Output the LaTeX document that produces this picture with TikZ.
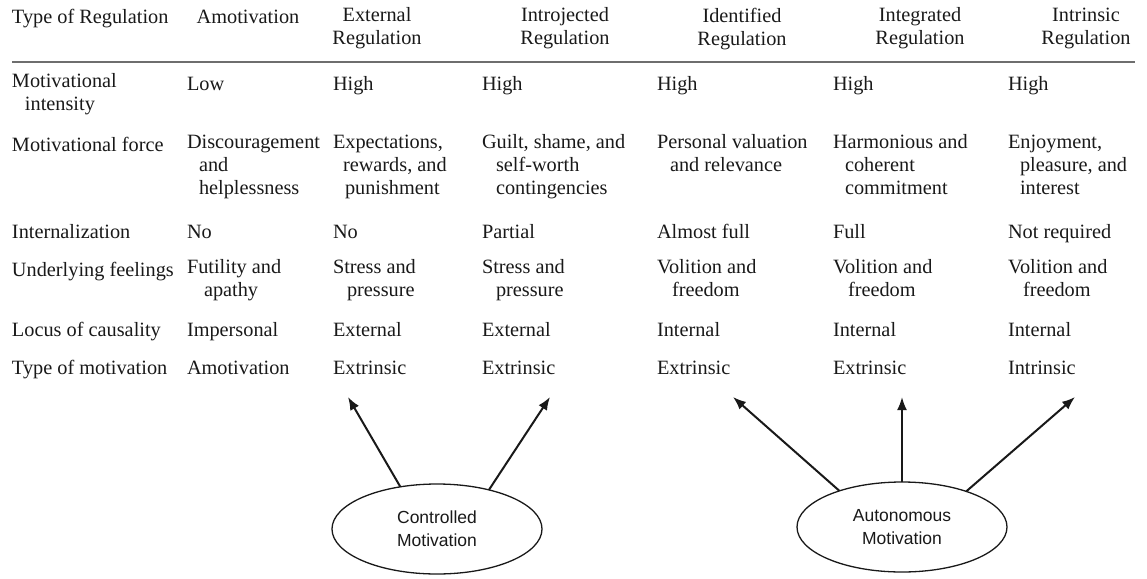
\documentclass[tikz,border=0pt]{standalone}
\usepackage{fontspec}
\setmainfont{Liberation Serif}
\newfontfamily\ovalfont{Liberation Sans}
\usetikzlibrary{shapes.geometric,arrows.meta}
\definecolor{txt}{RGB}{25,25,25}
\definecolor{rulegray}{RGB}{110,110,110}
\begin{document}
\begin{tikzpicture}[x=1pt,y=-1pt,
  every node/.style={inner sep=0pt, outer sep=0pt, text=txt},
  cell/.style={anchor=north west, align=left, font=\fontsize{20.3}{23}\selectfont, execute at begin node={\strut}},
  head/.style={anchor=north, align=center, font=\fontsize{20.3}{23}\selectfont, execute at begin node={\strut}},
  oval/.style={ellipse, draw=txt, line width=1.3pt, minimum width=210pt, minimum height=90pt, align=center, font=\ovalfont\fontsize{17.5}{23}\selectfont},
  arr/.style={draw=txt, line width=2pt, -{Latex[length=13pt,width=10pt]}},
  rulestyle/.style={draw=rulegray, line width=2pt}]
\useasboundingbox (0,0) rectangle (1147,578);
% header
\node[cell] (c0a) at (12,7.9) {Type of Regulation};
\node[head] (h1) at (248,7.9) {Amotivation};
\node[head] (h2) at (377,7.9) {External\\Regulation};
\node[head] (h3) at (565,7.9) {Introjected\\Regulation};
\node[head] (h4) at (742,7.9) {Identified\\Regulation};
\node[head] (h5) at (920,7.9) {Integrated\\Regulation};
\node[head] (h6) at (1086,7.9) {Intrinsic\\Regulation};
\coordinate (rl) at (12,62);
\coordinate (rr) at (1135,62);
\draw[rulestyle] (rl) -- (rr);
% column 0
\node[cell] (c0b) at (12,73.9) {Motivational\\\hspace*{13pt}intensity};
\node[cell] (c0c) at (12,134.9) {Motivational force};
\node[cell] (c0d) at (12,221.9) {Internalization};
\node[cell] (c0e) at (12,259.9) {Underlying feelings};
\node[cell] (c0f) at (12,319.9) {Locus of causality};
\node[cell] (c0g) at (12,357.9) {Type of motivation};
% column 1
\node[cell] (c1b) at (187,73.9) {Low};
\node[cell] (c1c) at (187,134.9) {Discouragement\\\hspace*{12pt}and\\\hspace*{12pt}helplessness};
\node[cell] (c1d) at (187,221.9) {No};
\node[cell] (c1e) at (187,259.9) {Futility and\\\hspace*{17pt}apathy};
\node[cell] (c1f) at (187,319.9) {Impersonal};
\node[cell] (c1g) at (187,357.9) {Amotivation};
% column 2
\node[cell] (c2b) at (333,73.9) {High};
\node[cell] (c2c) at (333,134.9) {Expectations,\\\hspace*{10pt}rewards, and\\\hspace*{12pt}punishment};
\node[cell] (c2d) at (333,221.9) {No};
\node[cell] (c2e) at (333,259.9) {Stress and\\\hspace*{14pt}pressure};
\node[cell] (c2f) at (333,319.9) {External};
\node[cell] (c2g) at (333,357.9) {Extrinsic};
% column 3
\node[cell] (c3b) at (482,73.9) {High};
\node[cell] (c3c) at (482,134.9) {Guilt, shame, and\\\hspace*{14pt}self-worth\\\hspace*{14pt}contingencies};
\node[cell] (c3d) at (482,221.9) {Partial};
\node[cell] (c3e) at (482,259.9) {Stress and\\\hspace*{14pt}pressure};
\node[cell] (c3f) at (482,319.9) {External};
\node[cell] (c3g) at (482,357.9) {Extrinsic};
% column 4
\node[cell] (c4b) at (657,73.9) {High};
\node[cell] (c4c) at (657,134.9) {Personal valuation\\\hspace*{13pt}and relevance};
\node[cell] (c4d) at (657,221.9) {Almost full};
\node[cell] (c4e) at (657,259.9) {Volition and\\\hspace*{15pt}freedom};
\node[cell] (c4f) at (657,319.9) {Internal};
\node[cell] (c4g) at (657,357.9) {Extrinsic};
% column 5
\node[cell] (c5b) at (833,73.9) {High};
\node[cell] (c5c) at (833,134.9) {Harmonious and\\\hspace*{12pt}coherent\\\hspace*{12pt}commitment};
\node[cell] (c5d) at (833,221.9) {Full};
\node[cell] (c5e) at (833,259.9) {Volition and\\\hspace*{15pt}freedom};
\node[cell] (c5f) at (833,319.9) {Internal};
\node[cell] (c5g) at (833,357.9) {Extrinsic};
% column 6
\node[cell] (c6b) at (1008,73.9) {High};
\node[cell] (c6c) at (1008,134.9) {Enjoyment,\\\hspace*{12pt}pleasure, and\\\hspace*{12pt}interest};
\node[cell] (c6d) at (1008,221.9) {Not required};
\node[cell] (c6e) at (1008,259.9) {Volition and\\\hspace*{15pt}freedom};
\node[cell] (c6f) at (1008,319.9) {Internal};
\node[cell] (c6g) at (1008,357.9) {Intrinsic};
% ovals
\node[oval] (ctrl) at (437,529) {Controlled\\Motivation};
\node[oval] (auto) at (902,527) {Autonomous\\Motivation};
% arrow tips
\coordinate (t1) at (348,397);
\coordinate (t2) at (550,397);
\coordinate (t3) at (733,397);
\coordinate (t4) at (902,397);
\coordinate (t5) at (1075,397);
\draw[arr] (ctrl.131) -- (t1);
\draw[arr] (ctrl.37) -- (t2);
\draw[arr] (auto.150) -- (t3);
\draw[arr] (auto.90) -- (t4);
\draw[arr] (auto.29) -- (t5);
\end{tikzpicture}
\end{document}
